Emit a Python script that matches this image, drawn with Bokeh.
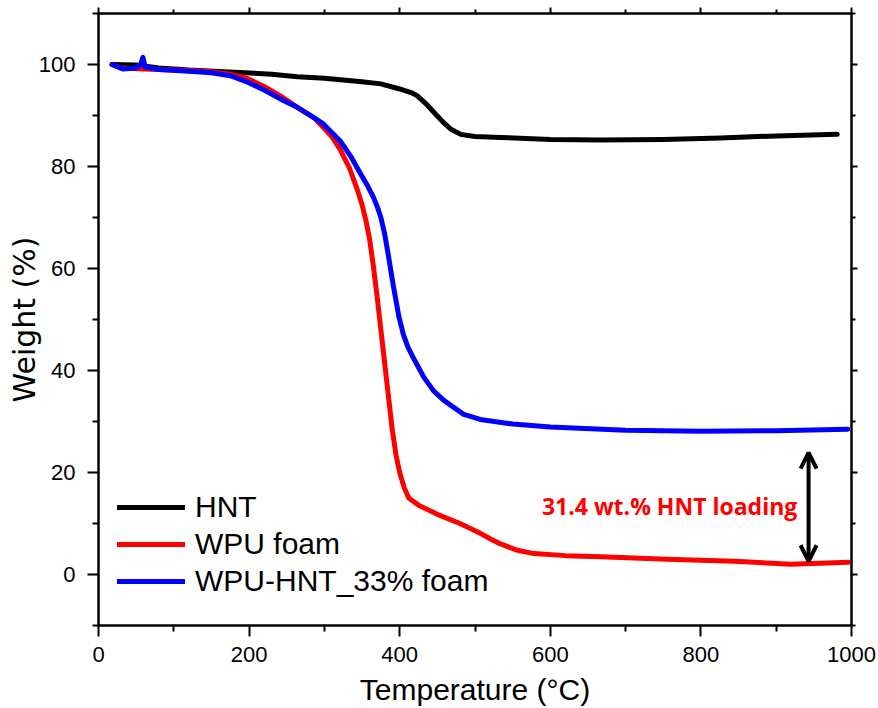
from bokeh.plotting import figure
from bokeh.models import (Range1d, LinearAxis, Legend, LegendItem, Arrow, OpenHead,
                          Label, FixedTicker, CustomJSTickFormatter)
from bokeh.embed import file_html
from bokeh.resources import INLINE

# ---- data ----
hnt_T = [18, 50, 80, 120, 180, 230, 264, 300, 350, 375, 400, 415, 423, 435, 445, 457,
         468, 481, 500, 534, 600, 667, 750, 826, 900, 981]
hnt_W = [100.0, 99.9, 99.3, 98.9, 98.5, 98.1, 97.6, 97.3, 96.6, 96.2, 95.2, 94.5, 93.9,
         92.3, 90.7, 88.8, 87.3, 86.3, 85.9, 85.7, 85.3, 85.2, 85.3, 85.6, 86.0, 86.3]

wpu_T = [18, 30, 60, 100, 150, 175, 197, 220, 242, 264, 286, 299, 310, 321, 333, 344,
         350, 355, 360, 365, 370, 375, 380, 385, 390, 395, 400, 406, 412, 425, 450, 480,
         503, 520, 534, 555, 578, 620, 667, 755, 844, 919, 996]
wpu_W = [100.0, 99.3, 99.1, 98.9, 98.6, 98.1, 97.3, 95.7, 93.8, 91.6, 89.6, 87.6, 85.8,
         83.3, 79.8, 75.3, 72.5, 69.5, 65.8, 60.5, 54.5, 48.0, 41.5, 35.0, 28.5, 23.5,
         20.0, 17.0, 15.0, 13.6, 11.8, 10.0, 8.4, 7.0, 6.0, 4.8, 4.1, 3.7, 3.5, 3.0,
         2.6, 2.0, 2.4]

hnt33_T = [18, 33, 50, 56, 59, 62, 80, 120, 150, 175, 197, 220, 242, 264, 286, 299, 321,
           335, 344, 357, 365, 370, 375, 380, 385, 391, 399, 405, 411, 418, 432, 445, 459,
           485, 507, 550, 600, 700, 800, 900, 995]
hnt33_W = [100.0, 99.1, 99.3, 100.0, 101.4, 99.5, 99.0, 98.7, 98.4, 97.8, 96.6, 95.0,
           93.2, 91.6, 89.6, 88.3, 85.0, 82.0, 79.6, 76.3, 74.0, 72.2, 70.0, 66.8, 62.5,
           57.1, 50.5, 47.0, 44.6, 42.5, 38.7, 36.0, 34.1, 31.4, 30.4, 29.5, 28.9, 28.3,
           28.1, 28.2, 28.5]

series_names = ["HNT", "WPU foam", "WPU-HNT_33% foam"]
series_colors = ["#000000", "#ff0000", "#0000ff"]

x_major = [0, 200, 400, 600, 800, 1000]
x_minor = [100, 300, 500, 700, 900]
y_major = [0, 20, 40, 60, 80, 100]
y_minor = [-10, 10, 30, 50, 70, 90, 110]

x_title = "Temperature (°C)"
y_title = "Weight (%)"

arrow_x = 943
arrow_y0 = 2.6
arrow_y1 = 23.9
note_text = "31.4 wt.% HNT loading"
note_x = 928
note_y = 13.4

# ---- figure ----
p = figure(width=878, height=708, output_backend="svg", toolbar_location=None,
           x_range=Range1d(0, 1000), y_range=Range1d(-10, 110),
           min_border_left=98, min_border_right=27, min_border_top=13,
           min_border_bottom=83)
p.background_fill_color = "white"
p.border_fill_color = "white"
p.xgrid.visible = False
p.ygrid.visible = False
p.outline_line_color = "black"
p.outline_line_width = 2

renderers = []
for T, W, c in zip([hnt_T, wpu_T, hnt33_T], [hnt_W, wpu_W, hnt33_W], series_colors):
    r = p.line(T, W, line_color=c, line_width=5, line_join="round", line_cap="round")
    renderers.append(r)

# main axes
for ax in (p.xaxis[0], p.yaxis[0]):
    ax.axis_line_width = 2
    ax.major_tick_line_width = 2
    ax.minor_tick_line_width = 2
    ax.major_tick_out = 11
    ax.major_tick_in = 0
    ax.minor_tick_out = 6
    ax.minor_tick_in = 0
    ax.major_label_text_font = "Liberation Sans"
    ax.major_label_text_font_size = "22px"
    ax.major_label_text_color = "black"
    ax.axis_label_text_color = "black"
    ax.axis_label_text_font_style = "normal"

p.xaxis[0].ticker = FixedTicker(ticks=x_major, minor_ticks=x_minor)
p.yaxis[0].ticker = FixedTicker(ticks=y_major, minor_ticks=y_minor)
p.xaxis[0].major_label_standoff = 10
p.yaxis[0].major_label_standoff = 12

p.xaxis[0].axis_label = x_title
p.xaxis[0].axis_label_text_font = "Liberation Sans"
p.xaxis[0].axis_label_text_font_size = "30px"
p.xaxis[0].axis_label_standoff = 8

p.yaxis[0].axis_label = y_title
p.yaxis[0].axis_label_text_font = "DejaVu Sans"
p.yaxis[0].axis_label_text_font_size = "30px"
p.yaxis[0].axis_label_standoff = -6

# mirrored axes (ticks only)
blank = CustomJSTickFormatter(code="return ''")
top = LinearAxis(ticker=FixedTicker(ticks=x_major, minor_ticks=x_minor), formatter=blank)
right = LinearAxis(ticker=FixedTicker(ticks=y_major, minor_ticks=y_minor), formatter=blank)
for ax in (top, right):
    ax.axis_line_width = 2
    ax.major_tick_line_width = 2
    ax.minor_tick_line_width = 2
    ax.major_tick_out = 6
    ax.major_tick_in = 0
    ax.minor_tick_out = 4
    ax.minor_tick_in = 0
    ax.major_label_standoff = 0
    ax.major_label_text_font_size = "1px"
p.add_layout(top, "above")
p.add_layout(right, "right")

# legend
items = [LegendItem(label=n, renderers=[r]) for n, r in zip(series_names, renderers)]
legend = Legend(items=items, location=(19, 26), border_line_color=None,
                background_fill_alpha=0, label_text_font="Liberation Sans",
                label_text_color="black",
                label_text_font_size="30px", glyph_width=68, glyph_height=20,
                label_height=37, spacing=0, padding=0, margin=0, label_standoff=10)
p.add_layout(legend)

# annotation
p.add_layout(Arrow(start=OpenHead(size=16, line_width=4, line_color="black"),
                   end=OpenHead(size=16, line_width=4, line_color="black"),
                   x_start=arrow_x, y_start=arrow_y0, x_end=arrow_x, y_end=arrow_y1,
                   line_width=4, line_color="black"))
p.add_layout(Label(x=note_x, y=note_y, text=note_text, text_color="#ff0000",
                   text_font="Open Sans", text_font_style="bold", text_font_size="23px",
                   text_align="right", text_baseline="middle"))

open("out.html", "w").write(file_html(p, INLINE))
